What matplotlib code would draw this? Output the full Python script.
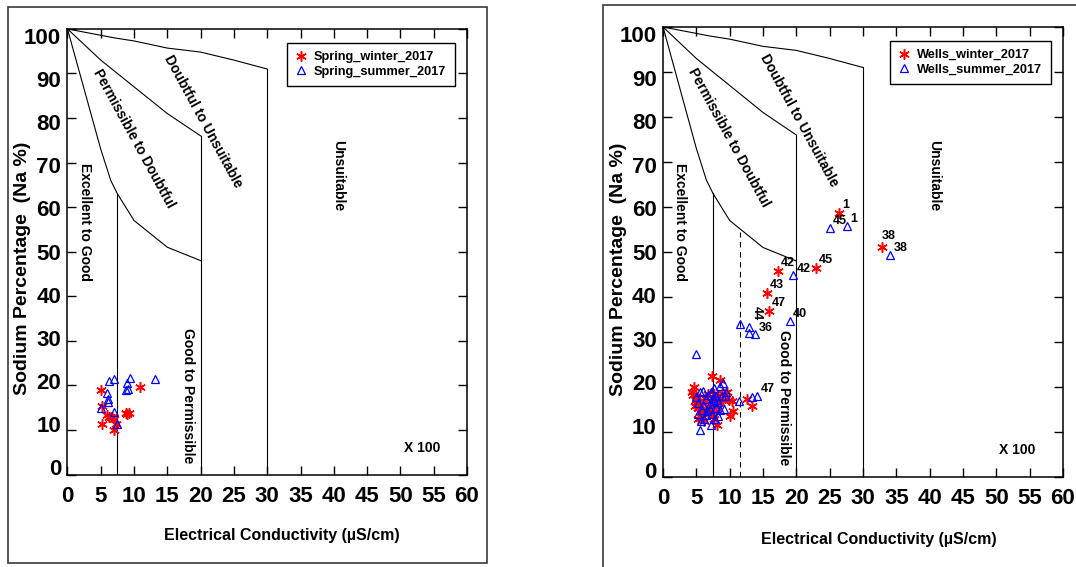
import matplotlib
matplotlib.use('Agg')
import matplotlib.pyplot as plt
from matplotlib.patches import Rectangle

plt.rcParams['font.family'] = ['Liberation Sans', 'DejaVu Sans']
plt.rcParams['font.weight'] = 'bold'

# ---------------- data ----------------
x_ticks = list(range(0, 61, 5))
y_ticks = list(range(0, 101, 10))

# Wilcox diagram boundaries
top_bx = [0, 7, 10, 15, 20, 25, 30]
top_by = [100, 98, 97.3, 95.7, 94.8, 93, 91]
mid_bx = [0, 5, 10, 15, 20]
mid_by = [100, 93, 87, 81, 76]
low_bx = [0, 2.5, 5, 6.5, 7.5, 10, 15, 20]
low_by = [100, 86.5, 73, 66, 63, 57, 51, 48]
vert_x = [7.5, 20, 30]
vert_top = [63, 76, 91]
dash_x = 11.6
dash_top = 54.5

zone_names = ['Excellent to Good', 'Permissible to Doubtful',
              'Doubtful to Unsuitable', 'Unsuitable', 'Good to Permissible']

# Springs
spring_winter_ec = [5.0, 5.2, 5.2, 6.0, 6.3, 6.7, 7.0, 7.0, 7.3, 8.8, 9.0, 9.3, 10.9]
spring_winter_na = [18.9, 15.3, 11.3, 13.3, 13.0, 12.8, 12.4, 10.0, 11.3, 13.9, 13.6, 13.8, 19.6]
spring_summer_ec = [6.2, 7.0, 9.4, 9.0, 8.8, 9.1, 5.9, 6.1, 6.1, 5.1, 7.0, 7.5, 13.2]
spring_summer_na = [21.0, 21.4, 21.7, 20.5, 19.0, 19.2, 18.3, 17.0, 16.2, 15.0, 14.1, 11.4, 21.4]

# Wells
wells_winter_ec = [26.4, 32.8, 22.9, 17.3, 15.6, 15.9,
                   4.4, 4.6, 4.5, 4.9, 5.0, 4.8, 5.1, 5.3, 5.2, 5.6, 5.8, 6.1, 6.0, 6.3,
                   6.5, 6.8, 7.0, 7.2, 7.4, 7.5, 7.7, 7.9, 8.0, 8.1, 8.3, 8.5, 8.6, 8.8,
                   9.0, 9.6, 9.9, 10.0, 10.5, 10.3, 12.6, 13.3, 6.8, 7.6]
wells_winter_na = [58.6, 51.2, 46.4, 45.8, 40.8, 36.8,
                   18.9, 20.0, 18.3, 18.0, 17.2, 15.8, 16.6, 15.3, 12.9, 13.6, 14.4, 12.4, 16.5, 17.6,
                   15.2, 14.1, 16.3, 15.0, 22.5, 17.3, 18.4, 16.0, 14.4, 11.6, 17.9, 21.5, 16.4, 18.6,
                   17.2, 18.9, 17.2, 13.6, 14.7, 16.8, 17.3, 15.8, 18.5, 13.0]
wells_winter_id = ['1', '38', '45', '42', '43', '47']

wells_summer_ec = [25.0, 27.6, 34.1, 19.5, 19.0, 12.9, 13.8, 14.1,
                   11.6, 12.9, 13.4, 11.45, 5.0, 5.55, 7.2, 9.05,
                   5.0, 5.3, 5.6, 5.2, 5.8, 6.0, 6.2, 6.4, 6.6, 6.8, 7.0, 7.2, 7.4, 7.5,
                   7.7, 7.8, 7.9, 8.0, 8.2, 8.3, 8.5, 8.6, 8.8, 9.1, 9.5, 9.3, 6.0, 5.7,
                   7.6, 8.1, 7.1, 6.5]
wells_summer_na = [55.3, 55.8, 49.4, 44.8, 34.7, 33.3, 31.7, 18.0,
                   34.0, 32.1, 17.7, 17.0, 27.3, 10.4, 11.5, 21.0,
                   17.8, 16.5, 18.8, 14.0, 15.0, 19.2, 13.0, 17.4, 14.6, 18.3, 16.3, 19.0, 14.0, 17.5,
                   19.8, 12.8, 15.4, 18.0, 13.6, 16.6, 20.2, 14.8, 17.9, 15.2, 19.0, 18.1, 16.0, 12.5,
                   16.8, 17.1, 15.2, 13.8]
wells_summer_id = ['45', '1', '38', '42', '40', '44', '36', '47']

RED = '#ff0000'
BLUE = '#0000ff'
AST = (6, 2, 0)
TICK_FS = 16


def panel(fig, rect, winter, summer, names, dashed=False, ids=None):
    ax = fig.add_axes(rect)
    ax.set_xlim(0, 60)
    ax.set_ylim(0, 100)
    ax.set_xticks(x_ticks)
    ax.set_yticks(y_ticks)
    ax.tick_params(direction='in', length=6.5, width=1, top=True, right=True,
                   labelsize=TICK_FS, pad=8, colors='black')
    ax.tick_params(axis='y', labelleft=False)
    for lab in ax.get_xticklabels():
        lab.set_fontweight('bold')
    for s in ax.spines.values():
        s.set_linewidth(1.1)

    # label-only y axis (labels slightly compressed as in the original)
    axl = fig.add_axes(rect, frameon=False)
    axl.set_ylim(-1.7, 101.6)
    axl.set_xticks([])
    axl.set_yticks(y_ticks)
    axl.tick_params(axis='y', length=0, labelsize=TICK_FS, pad=4.5)
    for lab in axl.get_yticklabels():
        lab.set_fontweight('bold')
    axl.patch.set_visible(False)

    # boundaries
    kw = dict(color='black', lw=0.8)
    ax.plot(top_bx, top_by, **kw)
    ax.plot(mid_bx, mid_by, **kw)
    ax.plot(low_bx, low_by, **kw)
    for vx, vt in zip(vert_x, vert_top):
        ax.plot([vx, vx], [0, vt], **kw)
    if dashed:
        ax.plot([dash_x, dash_x], [0, dash_top], color='black', lw=0.8,
                dashes=(5, 4))

    tk = dict(fontsize=10, fontweight='bold', ha='center', va='center',
              rotation_mode='anchor')
    ax.text(2.6, 56.7, zone_names[0], rotation=-90, **tk)
    ax.text(9.9, 75.4, zone_names[1], rotation=-61.4, **tk)
    ax.text(20.4, 79.2, zone_names[2], rotation=-61.4, **tk)
    ax.text(40.7, 67.0, zone_names[3], rotation=-90, **tk)
    ax.text(18.1, 17.7, zone_names[4], rotation=-90, **tk)
    ax.text(53.2, 6.0, 'X 100', fontsize=10, fontweight='bold',
            ha='center', va='center')

    ax.plot(winter[0], winter[1], linestyle='none', marker=AST, ms=7.5,
            mec=RED, mew=1.1, color=RED, label=names[0], zorder=3)
    ax.plot(summer[0], summer[1], linestyle='none', marker='^', ms=6,
            mfc='none', mec=BLUE, mew=0.9, label=names[1], zorder=3)

    if ids is not None:
        wid, sid = ids
        for i, t in enumerate(wid):
            off = (0, 3.5) if t == '38' else (2, 1.5)
            ax.annotate(t, (winter[0][i], winter[1][i]), xytext=off,
                        textcoords='offset points', fontsize=9,
                        fontweight='bold', ha='left', va='bottom')
        for i, t in enumerate(sid):
            if t == '44':
                ax.annotate(t, (summer[0][i], summer[1][i]), xytext=(1.5, 5),
                            textcoords='offset points', fontsize=9,
                            fontweight='bold', ha='left', va='bottom',
                            rotation=-90)
            else:
                ax.annotate(t, (summer[0][i], summer[1][i]), xytext=(2.5, 0.5),
                            textcoords='offset points', fontsize=9,
                            fontweight='bold', ha='left', va='bottom')

    leg = ax.legend(loc='upper right', bbox_to_anchor=(0.969, 0.969),
                    borderaxespad=0, fancybox=False, edgecolor='black',
                    framealpha=1, handlelength=0.9,
                    handletextpad=0.6, borderpad=0.65, labelspacing=0.2,
                    prop={'weight': 'bold', 'size': 9.2})
    leg.get_frame().set_linewidth(1.0)

    ax.set_xlabel('Electrical Conductivity (\u00b5S/cm)', fontsize=11.5,
                  fontweight='bold', va='center')
    ax.set_ylabel('Sodium Percentage  (Na %)', fontsize=14,
                  fontweight='bold', va='center')
    return ax


fig = plt.figure(figsize=(10.76, 5.67), dpi=100)
fig.patch.set_facecolor('white')

fig.add_artist(Rectangle((0.0071, 0.0071), 0.4455, 0.9814,
                         transform=fig.transFigure, fill=False,
                         ec='#3a3a3a', lw=1.2))
fig.add_artist(Rectangle((0.5604, -0.02), 0.5, 1.0105,
                         transform=fig.transFigure, fill=False,
                         ec='#3a3a3a', lw=1.2))

axL = panel(fig, [0.0627, 0.1631, 0.3713, 0.7859],
            (spring_winter_ec, spring_winter_na),
            (spring_summer_ec, spring_summer_na),
            ['Spring_winter_2017', 'Spring_summer_2017'])
axL.xaxis.set_label_coords(0.536, -0.136)
axL.yaxis.set_label_coords(-0.112, 0.462)

axR = panel(fig, [0.6162, 0.1587, 0.3717, 0.7937],
            (wells_winter_ec, wells_winter_na),
            (wells_summer_ec, wells_summer_na),
            ['Wells_winter_2017', 'Wells_summer_2017'],
            dashed=True, ids=(wells_winter_id, wells_summer_id))
axR.xaxis.set_label_coords(0.539, -0.139)
axR.yaxis.set_label_coords(-0.111, 0.461)

fig.savefig('out.png', dpi=100)
